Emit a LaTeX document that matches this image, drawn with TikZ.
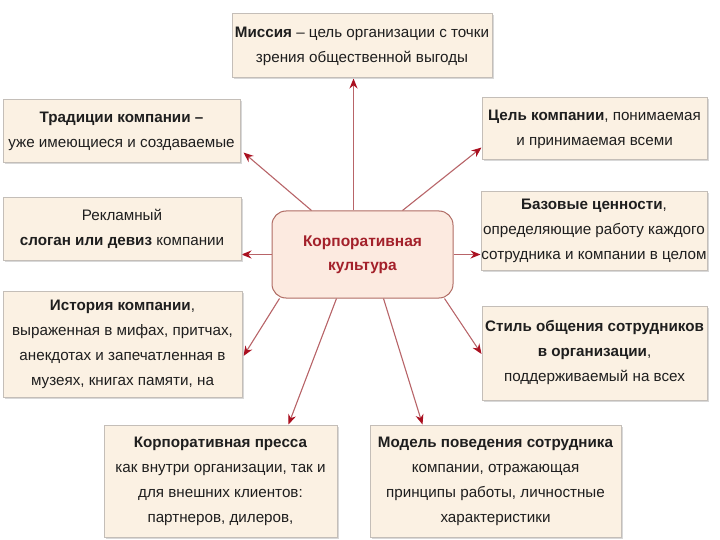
\documentclass[tikz,border=0pt]{standalone}
\usepackage{fontspec}
\setmainfont{Liberation Sans}
\usetikzlibrary{calc,arrows.meta,shadows,backgrounds}
\definecolor{boxfill}{RGB}{251,241,227}
\definecolor{boxline}{RGB}{196,190,184}
\definecolor{cfill}{RGB}{252,234,224}
\definecolor{cline}{RGB}{176,108,100}
\definecolor{ctext}{RGB}{163,32,42}
\definecolor{arrline}{RGB}{184,100,104}
\definecolor{arrhead}{RGB}{170,16,32}
\definecolor{txt}{RGB}{30,30,30}
\begin{document}
\begin{tikzpicture}[x=1pt,y=-1pt,
  box/.style={draw=boxline, fill=boxfill, line width=1pt, align=center, inner sep=0pt,
    text=txt, font=\fontsize{15.2}{25}\selectfont,
    drop shadow={shadow xshift=1.5pt, shadow yshift=-1.5pt, fill=black!25, opacity=0.6}},
  centre/.style={draw=cline, fill=cfill, line width=1pt, rounded corners=14pt, align=center,
    inner sep=0pt, text=ctext, font=\fontsize{15.5}{24}\selectfont\bfseries},
  arr/.style={draw=arrline, line width=1.1pt, -{Stealth[length=10pt,width=8pt,color=arrhead]}}
]
\useasboundingbox (0,0) rectangle (720,540);

\node[centre, minimum width=181pt, minimum height=87pt] (c) at (362.5,254.5)
  {Корпоративная\\культура};

\node[box, minimum width=260pt, minimum height=64pt] (m) at (362,46)
  {\textbf{Миссия} – цель организации с точки\\зрения общественной выгоды};
\node[box, minimum width=237pt, minimum height=63pt] (t) at (121.5,131.5)
  {\textbf{Традиции компании –}\\уже имеющиеся и создаваемые};
\node[box, minimum width=238pt, minimum height=62pt] (r) at (122,229)
  {Рекламный\\\textbf{слоган или девиз} компании};
\node[box, minimum width=239pt, minimum height=106pt] (h) at (122.5,344)
  {\textbf{История компании},\\выраженная в мифах, притчах,\\анекдотах и запечатленная в\\музеях, книгах памяти, на};
\node[box, minimum width=233pt, minimum height=112pt] (p) at (220.5,481)
  {\textbf{Корпоративная пресса}\\как внутри организации, так и\\для внешних клиентов:\\партнеров, дилеров,};
\node[box, minimum width=251pt, minimum height=112pt] (mo) at (495.5,481)
  {\textbf{Модель поведения сотрудника}\\компании, отражающая\\принципы работы, личностные\\характеристики};
\node[box, minimum width=225pt, minimum height=94pt] (s) at (594.5,353)
  {\textbf{Стиль общения сотрудников}\\\textbf{в организации},\\поддерживаемый на всех};
\node[box, minimum width=226pt, minimum height=78pt] (b) at (594,231)
  {\textbf{Базовые ценности},\\определяющие работу каждого\\сотрудника и компании в целом};
\node[box, minimum width=225pt, minimum height=62pt] (g) at (594.5,129)
  {\textbf{Цель компании}, понимаемая\\и принимаемая всеми};

\begin{scope}[on background layer]
\fill[white] (0,0) rectangle (720,540);
\draw[arr] ($(c.north west)+(82,0)$) coordinate (a1) -- (a1 |- m.south);
\draw[arr] ($(c.north west)+(40,0)$) -- ($(t.south east)+(3,-11)$);
\draw[arr] ($(c.north west)+(131,0)$) -- ($(g.south west)+(0,-13)$);
\draw[arr] (c.west) -- (c.west -| r.east);
\draw[arr] (c.east) -- (c.east -| b.west);
\draw[arr] ($(c.south west)+(8,0)$) -- ($(h.east)+(1,12)$);
\draw[arr] ($(c.south west)+(65,0)$) -- ($(p.north west)+(185,0)$);
\draw[arr] ($(c.south west)+(112,0)$) -- ($(mo.north west)+(53,0)$);
\draw[arr] ($(c.south west)+(173,0)$) -- ($(s.west)+(0,1)$);
\end{scope}
\end{tikzpicture}
\end{document}
